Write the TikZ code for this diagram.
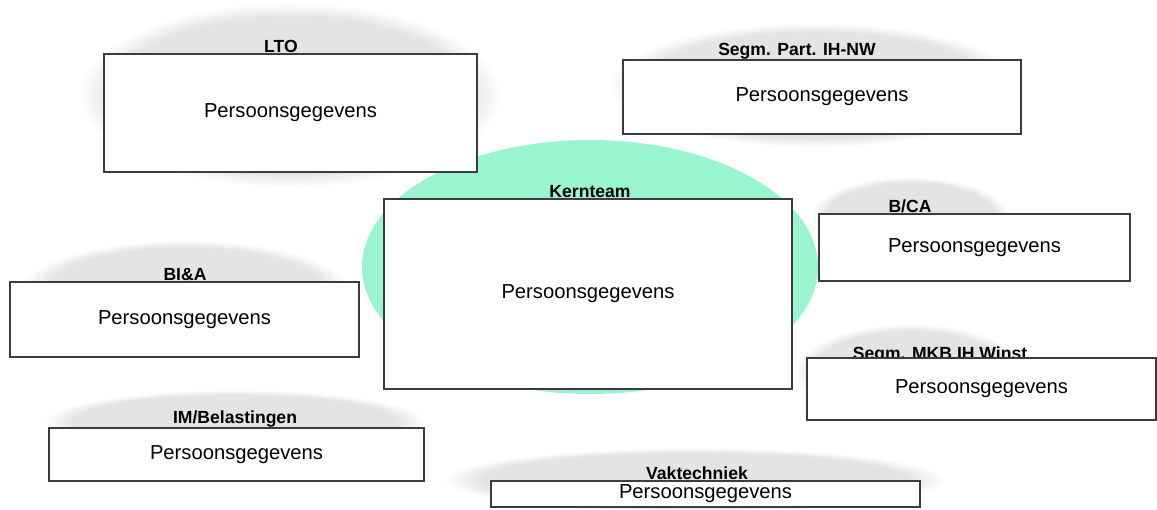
\documentclass[tikz,border=0pt]{standalone}
\usepackage{fontspec}
\setmainfont{Liberation Sans}
\usepackage{tikz}
\usetikzlibrary{positioning, fadings}
\definecolor{kerngreen}{RGB}{153,245,207}
\definecolor{cloudgray}{RGB}{228,228,228}
\definecolor{boxline}{RGB}{60,60,60}

\tikzset{
	cloud/.style={fill=cloudgray, path fading=circle with fuzzy edge 15 percent},
	box/.style={draw=boxline, fill=white, line width=0.8pt, inner sep=0pt, font=\fontsize{11.5}{13}\selectfont},
	team/.style={anchor=south, inner sep=1pt, font=\bfseries\fontsize{10}{11}\selectfont}
}

\begin{document}
\begin{tikzpicture}[x=0.02cm, y=-0.02cm]
			\useasboundingbox (0,0) rectangle (1157,510);
			%% achtergrond
			\fill[cloud] (290,95) ellipse (210 and 92);
			\fill[cloud] (815,85) ellipse (205 and 62);
			\fill[cloud] (910,215) ellipse (98 and 38);
			\fill[cloud] (185,292) ellipse (165 and 52);
			\fill[cloud] (910,372) ellipse (115 and 48);
			\fill[cloud] (235,422) ellipse (190 and 32);
			\fill[cloud] (695,480) ellipse (250 and 32);
			\fill[kerngreen] (590,267) ellipse (228 and 127);
			
			\node[box, minimum width=7.46cm, minimum height=2.36cm] (lto) at (290.5,113) {Persoonsgegevens};
			\node[team] (ltolabel) at (281,55) {LTO};
			\node[box, minimum width=7.96cm, minimum height=1.48cm] (part) at (822,97) {Persoonsgegevens};
			\node[team] (partlabel) at (797,61) {Segm. Part. IH-NW};
			\node[box, minimum width=8.16cm, minimum height=3.8cm] (kern) at (588,294) {Persoonsgegevens};
			\node[team] (kernlabel) at (590,200) {Kernteam};
			\node[box, minimum width=6.22cm, minimum height=1.34cm] (bca) at (974.5,247.5) {Persoonsgegevens};
			\node[team] (bcalabel) at (910,215) {B/CA};
			\node[box, minimum width=6.98cm, minimum height=1.5cm] (bia) at (184.5,319.5) {Persoonsgegevens};
			\node[team] (bialabel) at (185,283) {BI\&A};
			\node[team, anchor=base, inner sep=0pt] (mkblabel) at (940,359) {Segm. MKB IH Winst};
			\node[box, minimum width=6.98cm, minimum height=1.24cm] (mkb) at (981.5,389) {Persoonsgegevens};
			\node[box, minimum width=7.5cm, minimum height=1.06cm] (im) at (236.5,454.5) {Persoonsgegevens};
			\node[team] (imlabel) at (235,429) {IM/Belastingen};
			\node[box, minimum width=8.58cm, minimum height=0.52cm] (vak) at (705.5,494) {Persoonsgegevens};
			\node[team] (vaklabel) at (697,482) {Vaktechniek};
\end{tikzpicture}
\end{document}
